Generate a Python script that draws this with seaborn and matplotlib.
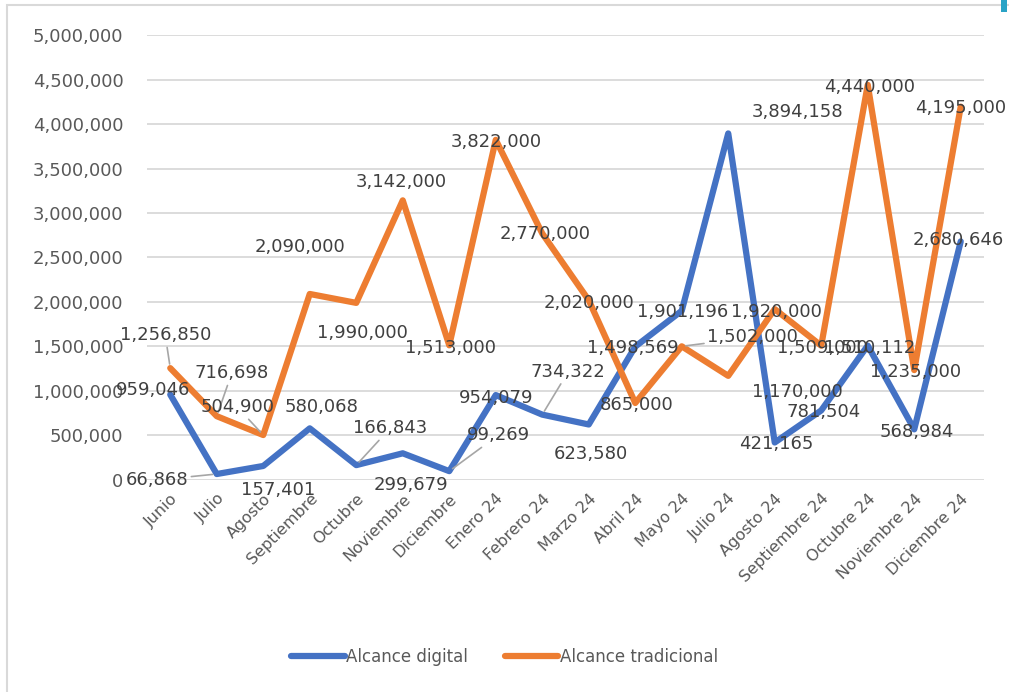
import pandas as pd
import matplotlib
matplotlib.use('Agg')
import matplotlib.pyplot as plt
import seaborn as sns
from matplotlib.patches import Rectangle
from matplotlib.ticker import FuncFormatter

months = ['Junio', 'Julio', 'Agosto', 'Septiembre', 'Octubre', 'Noviembre',
          'Diciembre', 'Enero 24', 'Febrero 24', 'Marzo 24', 'Abril 24',
          'Mayo 24', 'Julio 24', 'Agosto 24', 'Septiembre 24', 'Octubre 24',
          'Noviembre 24', 'Diciembre 24']
digital = [959046, 66868, 157401, 580068, 166843, 299679, 99269, 954079,
           734322, 623580, 1498569, 1901196, 3894158, 421165, 781504,
           1510112, 568984, 2680646]
tradicional = [1256850, 716698, 504900, 2090000, 1990000, 3142000, 1513000,
               3822000, 2770000, 2020000, 865000, 1502000, 1170000, 1920000,
               1509000, 4440000, 1235000, 4195000]

# label offsets in pixels (dx, dy downwards)
digital_off = [(-17, -5), (-60, 6), (15, 24), (12, -21), (34, -37), (8, 32),
               (49, -36), (0, 3), (26, -43), (2, 30), (-2, 1), (1, 1),
               (69, -21), (2, 2), (2, 2), (2, 2), (3, 3), (-2, -1)]
tradicional_off = [(-5, -33), (15, -43), (-26, -28), (-10, -47), (6, 30),
                   (-2, -18), (1, 3), (1, 2), (3, 1), (0, 3), (1, 2),
                   (71, -9), (69, 16), (2, 3), (1, 2), (2, 2), (1, 2), (0, 1)]
digital_leader = [1, 4, 6, 8]
tradicional_leader = [0, 1, 2, 11]

BLUE = '#4472C4'
ORANGE = '#ED7D31'
TEXT = '#404040'

sns.set_style('white')
plt.rcParams['font.family'] = ['DejaVu Sans']

df = pd.DataFrame({
    'mes': months * 2,
    'valor': digital + tradicional,
    'serie': ['Alcance digital'] * len(months) + ['Alcance tradicional'] * len(months),
})
df['pos'] = list(range(len(months))) * 2

fig = plt.figure(figsize=(10.09, 6.92), dpi=100)
ax = fig.add_axes([0.1457, 0.3064, 0.8295, 0.643])

sns.lineplot(data=df, x='pos', y='valor', hue='serie', sort=False,
             palette=[BLUE, ORANGE], linewidth=4.5, ax=ax)
for line in ax.lines:
    line.set_solid_joinstyle('round')
    line.set_solid_capstyle('round')

ax.set_xlim(-0.5, len(months) - 0.5)
ax.set_ylim(0, 5000000)
ax.set_yticks(range(0, 5000001, 500000))
ax.yaxis.set_major_formatter(FuncFormatter(lambda v, p: f'{int(v):,}'))
ax.set_xticks(range(len(months)))
ax.set_xticklabels(months, rotation=45, ha='right', rotation_mode='anchor')
ax.tick_params(axis='y', length=0, pad=17, labelsize=13, labelcolor='#595959')
ax.tick_params(axis='x', length=0, pad=8, labelsize=11.5, labelcolor='#595959')
ax.yaxis.grid(True, color='#d9d9d9', linewidth=1.3)
ax.xaxis.grid(False)
ax.set_axisbelow(True)
for s in ax.spines.values():
    s.set_visible(False)
ax.set_xlabel('')
ax.set_ylabel('')


def add_labels(values, offsets, leaders):
    for i, v in enumerate(values):
        dx, dy = offsets[i]
        kw = {}
        if i in leaders:
            kw['arrowprops'] = dict(arrowstyle='-', color='#a6a6a6', lw=1.2,
                                    shrinkA=0, shrinkB=3)
        ax.annotate(f'{v:,}', xy=(i, v), xytext=(dx, -dy),
                    textcoords='offset pixels', ha='center', va='center',
                    fontsize=13, color=TEXT, zorder=10, **kw)


add_labels(digital, digital_off, digital_leader)
add_labels(tradicional, tradicional_off, tradicional_leader)

handles, labels = ax.get_legend_handles_labels()
ax.legend(handles, labels, loc='center', bbox_to_anchor=(0.5, 0.0506),
          bbox_transform=fig.transFigure, ncol=2, frameon=False,
          fontsize=12, handlelength=3.2, handletextpad=0.1, columnspacing=2.2,
          labelcolor='#595959')

# outer frame like the pasted chart
fig.patches.append(Rectangle((0.007, -0.01), 1.0, 1.003, transform=fig.transFigure,
                             fill=False, edgecolor='#d9d9d9', linewidth=1.5))
fig.patches.append(Rectangle((0.992, 0.982), 0.006, 0.018, transform=fig.transFigure,
                             facecolor='#2aa3c6', edgecolor='none'))

fig.savefig('out.png', dpi=100)
